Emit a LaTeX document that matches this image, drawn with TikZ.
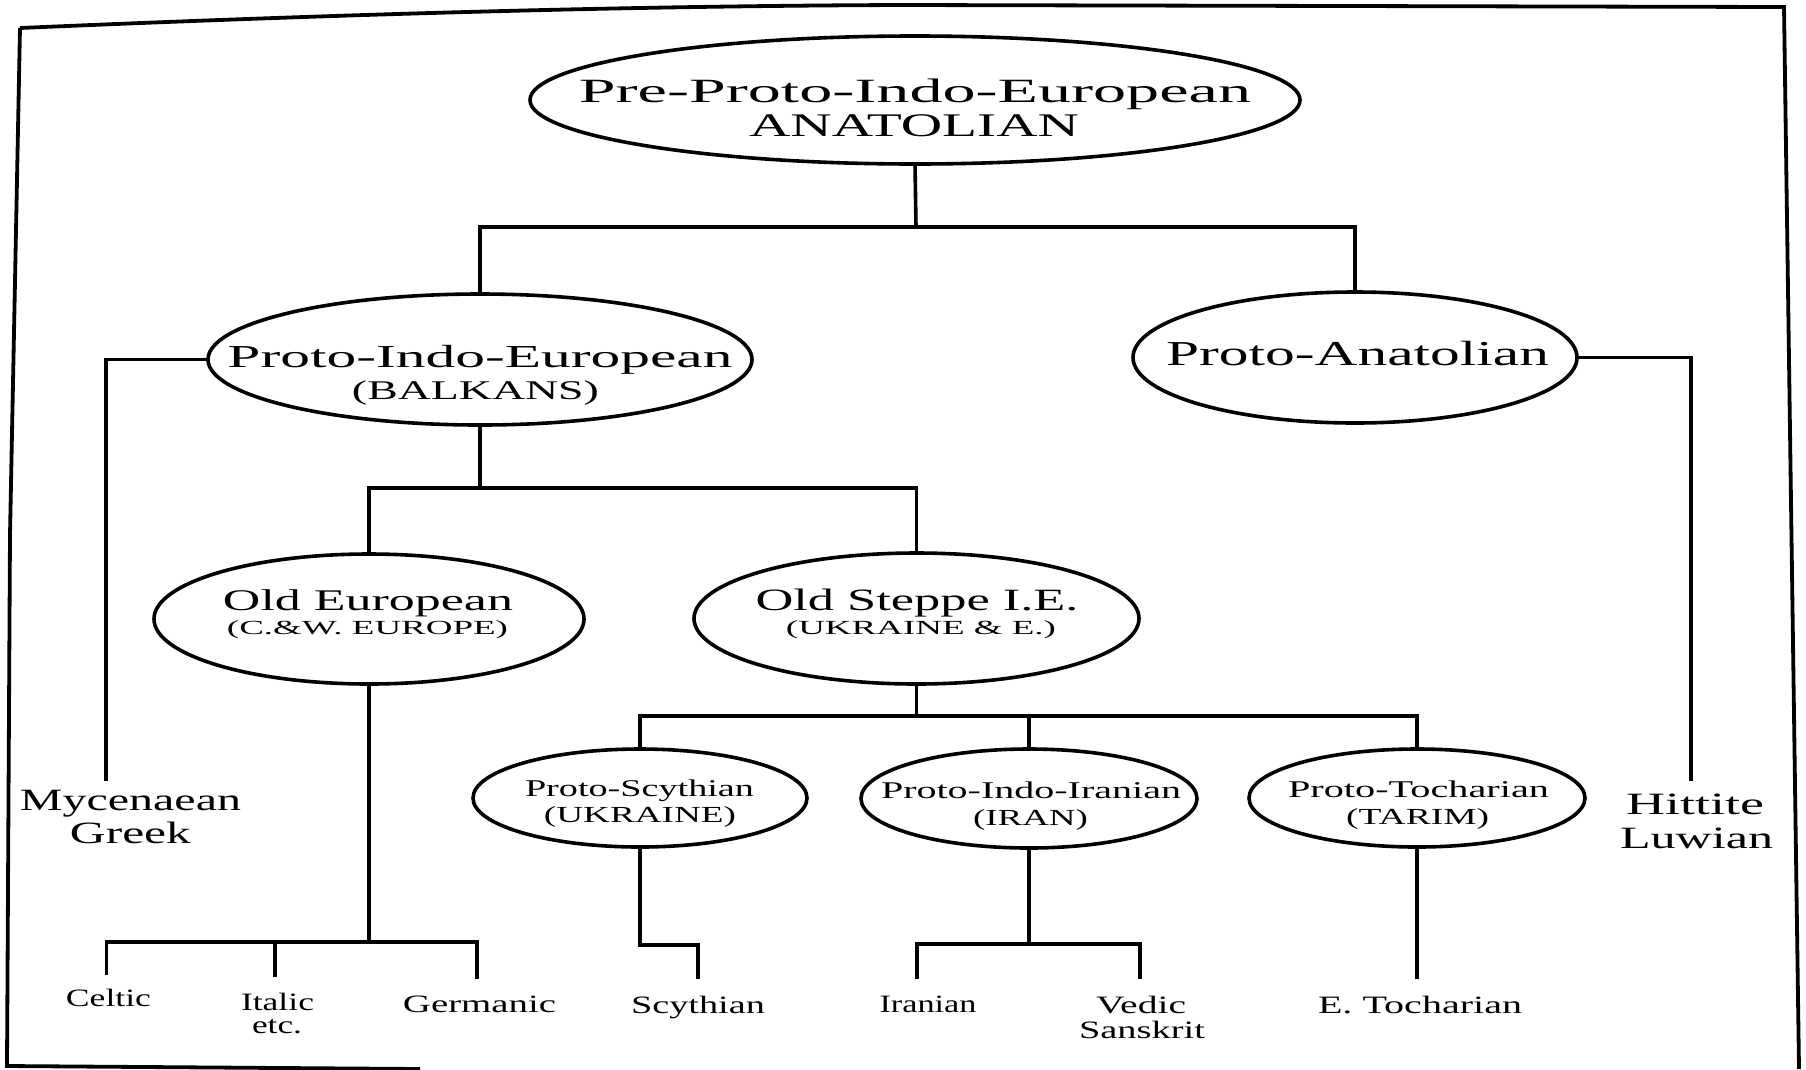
\documentclass[tikz,border=0pt]{standalone}
\usepackage{graphicx}
\usepackage{fontspec}
\setmainfont{Liberation Serif}
\usetikzlibrary{shapes.geometric,calc}
\newcommand\tline[6]{\node[anchor=base,inner sep=0pt,outer sep=0pt] (#1) at (#2,#3) {\fontsize{#4pt}{#4pt}\selectfont\resizebox{#5pt}{\height}{#6}};}
\begin{document}
\begin{tikzpicture}[x=1pt,y=-1pt,
  ell/.style={draw=black,line width=3.6pt,ellipse,inner sep=0pt,outer sep=0pt},
  conn/.style={draw=black,line width=3.6pt,line join=miter},
  framestyle/.style={draw=black,line width=3.8pt,line join=miter}]
\useasboundingbox[fill=white] (0,0) rectangle (1806,1069);
% frame
\draw[framestyle] (20,28) .. controls (300,16) and (600,6) .. (903,5) -- (1784,7) -- (1799,1069);
\draw[framestyle] (20,28) -- (10,535) -- (7,1066) -- (420,1069);
% ellipses
\node[ell,minimum width=770pt,minimum height=128pt] (ppie) at (915,100) {};
\node[ell,minimum width=544pt,minimum height=131pt] (pie) at (480,359.5) {};
\node[ell,minimum width=444pt,minimum height=131pt] (pa) at (1355,357.5) {};
\node[ell,minimum width=430pt,minimum height=130pt] (oe) at (369,619) {};
\node[ell,minimum width=445pt,minimum height=131pt] (os) at (916.5,618.5) {};
\node[ell,minimum width=334pt,minimum height=98pt] (ps) at (640,798) {};
\node[ell,minimum width=336pt,minimum height=99pt] (pii) at (1029,798.5) {};
\node[ell,minimum width=336pt,minimum height=98pt] (pt) at (1417,798) {};
% texts
\tline{t1a}{915}{102}{34}{672}{Pre-Proto-Indo-European}
\tline{t1b}{914}{136}{33}{330}{ANATOLIAN}
\tline{t2a}{480}{367}{32}{505}{Proto-Indo-European}
\tline{t2b}{475.5}{399}{27}{247}{(BALKANS)}
\tline{t3}{1357.5}{365}{35}{383}{Proto-Anatolian}
\tline{t4a}{368}{610}{30}{290}{Old European}
\tline{t4b}{367.5}{634}{20}{281}{(C.\&W. EUROPE)}
\tline{t5a}{917}{610}{31}{323}{Old Steppe I.E.}
\tline{t5b}{921}{634}{20}{270}{(UKRAINE \& E.)}
\tline{t6a}{639.5}{796}{24}{229}{Proto-Scythian}
\tline{t6b}{640}{822}{23}{192}{(UKRAINE)}
\tline{t7a}{1031}{798}{24}{300}{Proto-Indo-Iranian}
\tline{t7b}{1030.5}{825}{23}{115}{(IRAN)}
\tline{t8a}{1418.5}{797}{24}{261}{Proto-Tocharian}
\tline{t8b}{1417.7}{824}{23}{143}{(TARIM)}
\tline{myc1}{130.5}{810}{31}{221}{Mycenaean}
\tline{myc2}{130.5}{843}{31}{121}{Greek}
\tline{hit1}{1695}{814}{31}{138}{Hittite}
\tline{hit2}{1696.5}{848}{31}{153}{Luwian}
\tline{celtic}{108.5}{1006}{25}{85}{Celtic}
\tline{italic1}{277.5}{1010}{25}{73}{Italic}
\tline{italic2}{277}{1033}{25}{50}{etc.}
\tline{germanic}{479.5}{1012}{25}{153}{Germanic}
\tline{scythian}{698}{1013}{25}{134}{Scythian}
\tline{iranian}{928}{1012}{25}{97}{Iranian}
\tline{vedic}{1141}{1013}{25}{90}{Vedic}
\tline{sanskrit}{1142}{1038}{25}{126}{Sanskrit}
\tline{etoch}{1420}{1013}{25}{204}{E. Tocharian}
% junctions and free ends
\coordinate (j1) at (916,227);
\coordinate (mycTop) at (106,781);
\coordinate (hitTop) at (1691,781);
\coordinate (j2) at (480,488);
\coordinate (j3) at (369,942);
\coordinate (cE) at (106.5,975);
\coordinate (iE) at (275,977);
\coordinate (gE) at (477,979);
\coordinate (j4) at (916.5,716);
\coordinate (j5) at (640,945);
\coordinate (sE) at (698,979);
\coordinate (j6) at (1029,944);
\coordinate (irE) at (917,979);
\coordinate (vE) at (1140,979);
\coordinate (tE) at (1417,979);
% connectors
\draw[conn] (ppie.south) -- (j1);
\draw[conn] (pie.north) |- (j1) -| (pa.north);
\draw[conn] (pie.west) -| (mycTop);
\draw[conn] (pa.east) -| (hitTop);
\draw[conn] (pie.south) -- (j2);
\draw[conn] (oe.north) |- (j2) -| (os.north);
\draw[conn] (oe.south) -- (j3);
\draw[conn] (cE) |- (j3) -| (gE);
\draw[conn] (iE) -- (iE |- j3);
\draw[conn] (os.south) -- (j4);
\draw[conn] (ps.north) |- (j4) -| (pt.north);
\draw[conn] (pii.north) -- (pii.north |- j4);
\draw[conn] (ps.south) -- (j5) -| (sE);
\draw[conn] (pii.south) -- (j6);
\draw[conn] (irE) |- (j6) -| (vE);
\draw[conn] (pt.south) -- (tE);
\end{tikzpicture}
\end{document}
